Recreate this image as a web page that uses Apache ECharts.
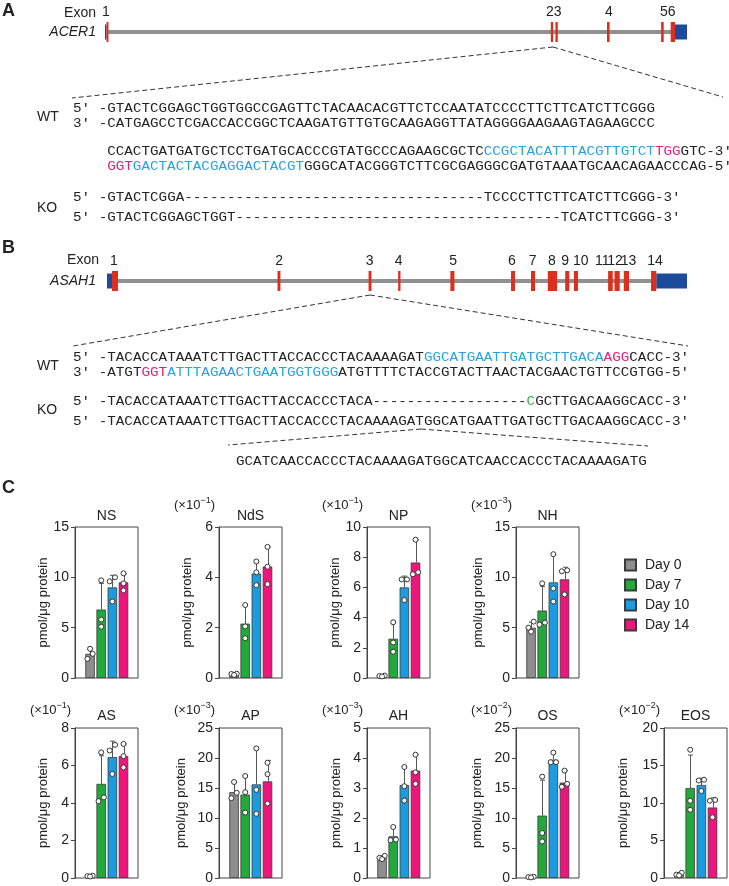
<!DOCTYPE html>
<html>
<head>
<meta charset="utf-8">
<title>ACER1 / ASAH1 knockout and ceramide levels</title>
<script src="https://cdn.jsdelivr.net/npm/echarts@6.0.0/dist/echarts.min.js"></script>
<style>
  html, body { margin: 0; padding: 0; background: #fff; }
  #main { width: 729px; height: 886px; }
</style>
</head>
<body>
<div id="main"></div>
<script>
var SANS = '"Liberation Sans", Arial, sans-serif';
var MONO = '"Liberation Mono", "DejaVu Sans Mono", monospace';

var days = ['Day 0', 'Day 7', 'Day 10', 'Day 14'];
var dayColors = ['#8e8e8e', '#23a83b', '#1b9ce0', '#ee157c'];

// gene models, positions in % of the drawn gene span
var acerIntron = [0.5, 98.1];
var acerUtr = [[0, 0.26], [97.9, 100]];
var acerExons = [[0.26, 0.6], [76.6, 77.0], [77.4, 77.8], [86.25, 86.7], [95.55, 96.0], [97.2, 97.95]];
var acerLabels = ['1', '23', '4', '56'];
var acerLabelPos = [0.17, 77.1, 86.6, 96.7];

var asahIntron = [1.9, 94.7];
var asahUtr = [[0, 0.86], [94.7, 100]];
var asahExons = [[0.86, 1.9], [29.4, 29.9], [45.1, 45.6], [50.2, 50.6], [59.2, 59.9], [69.66, 70.34], [73.1, 73.8],
  [76.0, 77.6], [79.0, 79.7], [80.5, 81.2], [86.4, 87.2], [87.5, 88.4], [89.1, 90.0], [93.8, 94.7]];
var asahLabels = ['1', '2', '3', '4', '5', '6', '7', '8', '9', '10', '11', '12', '13', '14'];
var asahLabelPos = [1.2, 29.7, 45.3, 50.3, 59.7, 69.8, 73.4, 76.7, 79.0, 81.7, 85.4, 87.6, 89.9, 94.5];

// sequences as runs: k plain, b guide, p PAM, g inserted base
var acerWt1 = [['k', '5′ -GTACTCGGAGCTGGTGGCCGAGTTCTACAACACGTTCTCCAATATCCCCTTCTTCATCTTCGGG']];
var acerWt2 = [['k', '3′ -CATGAGCCTCGACCACCGGCTCAAGATGTTGTGCAAGAGGTTATAGGGGAAGAAGTAGAAGCCC']];
var acerWt3 = [['k', 'CCACTGATGATGCTCCTGATGCACCCGTATGCCCAGAAGCGCTC'], ['b', 'CCGCTACATTTACGTTGTCT'], ['p', 'TGG'], ['k', 'GTC-3′']];
var acerWt4 = [['p', 'GGT'], ['b', 'GACTACTACGAGGACTACGT'], ['k', 'GGGCATACGGGTCTTCGCGAGGGCGATGTAAATGCAACAGAACCCAG-5′']];
var acerKo1 = [['k', '5′ -GTACTCGGA' + '-'.repeat(35) + 'TCCCCTTCTTCATCTTCGGG-3′']];
var acerKo2 = [['k', '5′ -GTACTCGGAGCTGGT' + '-'.repeat(38) + 'TCATCTTCGGG-3′']];

var asahWt1 = [['k', '5′ -TACACCATAAATCTTGACTTACCACCCTACAAAAGAT'], ['b', 'GGCATGAATTGATGCTTGACA'], ['p', 'AGG'], ['k', 'CACC-3′']];
var asahWt2 = [['k', '3′ -ATGT'], ['p', 'GGT'], ['b', 'ATTTAGAACTGAATGGTGGG'], ['k', 'ATGTTTTCTACCGTACTTAACTACGAACTGTTCCGTGG-5′']];
var asahKo1 = [['k', '5′ -TACACCATAAATCTTGACTTACCACCCTACA' + '-'.repeat(18)], ['g', 'C'], ['k', 'GCTTGACAAGGCACC-3′']];
var asahKo2 = [['k', '5′ -TACACCATAAATCTTGACTTACCACCCTACAAAAGATGGCATGAATTGATGCTTGACAAGGCACC-3′']];
var asahIns = [['k', 'GCATCAACCACCCTACAAAAGATGGCATCAACCACCCTACAAAAGATG']];

// panel C: mean, SD and replicate values (pmol/ug protein, in the axis multiplier)
var nsMean = [2.4, 6.8, 9.0, 9.5];
var nsSd = [0.45, 2.6, 1.2, 0.85];
var nsPts = [[1.9, 2.9, 2.4], [9.7, 5.8, 5.1], [10.0, 9.6, 7.6], [10.4, 9.4, 8.7]];

var ndsMean = [0.14, 2.16, 4.15, 4.43];
var ndsSd = [0.03, 0.74, 0.47, 0.78];
var ndsPts = [[0.16, 0.17, 0.12], [2.9, 2.05, 1.58], [4.63, 4.2, 3.69], [5.21, 4.42, 3.73]];

var npMean = [0.12, 2.6, 6.0, 7.65];
var npSd = [0.03, 1.1, 0.75, 1.5];
var npPts = [[0.13, 0.16, 0.1], [3.69, 2.35, 1.74], [6.53, 6.53, 5.16], [9.16, 6.87, 7.0]];

var nhMean = [5.0, 6.7, 9.5, 9.8];
var nhSd = [0.55, 2.4, 2.75, 1.2];
var nhPts = [[5.6, 5.0, 4.6], [9.4, 5.5, 5.3], [12.3, 8.9, 7.6], [10.7, 10.6, 8.3]];

var asMean = [0.1, 5.02, 6.45, 6.5];
var asSd = [0.02, 1.5, 0.85, 0.65];
var asPts = [[0.1, 0.12, 0.08], [6.7, 4.3, 4.1], [7.1, 6.8, 5.55], [7.15, 6.5, 5.9]];

var apMean = [14.3, 13.9, 15.6, 16.1];
var apSd = [1.8, 3.1, 6.0, 3.5];
var apPts = [[16.0, 14.2, 13.3], [17.0, 14.3, 10.9], [21.6, 14.7, 10.7], [19.2, 17.3, 12.4]];

var ahMean = [0.67, 1.39, 3.1, 3.58];
var ahSd = [0.07, 0.31, 0.6, 0.53];
var ahPts = [[0.74, 0.67, 0.63], [1.7, 1.28, 1.26], [3.7, 3.06, 2.58], [4.11, 3.52, 3.14]];

var osMean = [0.15, 10.4, 19.7, 15.9];
var osSd = [0.05, 5.9, 1.2, 2.0];
var osPts = [[0.15, 0.2, 0.1], [16.9, 7.5, 6.1], [20.9, 19.3, 19.3], [17.9, 15.7, 15.2]];

var eosMean = [0.45, 12.0, 12.4, 9.4];
var eosSd = [0.25, 4.4, 0.9, 1.3];
var eosPts = [[0.7, 0.45, 0.35], [17.1, 10.3, 9.1], [13.1, 13.0, 11.6], [10.4, 10.3, 8.1]];

var panels = [
  {name: 'NS', mean: nsMean, sd: nsSd, pts: nsPts, max: 15, step: 5, exp: null},
  {name: 'NdS', mean: ndsMean, sd: ndsSd, pts: ndsPts, max: 6, step: 2, exp: '−1'},
  {name: 'NP', mean: npMean, sd: npSd, pts: npPts, max: 10, step: 2, exp: '−1'},
  {name: 'NH', mean: nhMean, sd: nhSd, pts: nhPts, max: 15, step: 5, exp: '−3'},
  {name: 'AS', mean: asMean, sd: asSd, pts: asPts, max: 8, step: 2, exp: '−1'},
  {name: 'AP', mean: apMean, sd: apSd, pts: apPts, max: 25, step: 5, exp: '−3'},
  {name: 'AH', mean: ahMean, sd: ahSd, pts: ahPts, max: 5, step: 1, exp: '−3'},
  {name: 'OS', mean: osMean, sd: osSd, pts: osPts, max: 25, step: 5, exp: '−2'},
  {name: 'EOS', mean: eosMean, sd: eosSd, pts: eosPts, max: 20, step: 5, exp: '−2'}
];

// layout of panel C: [column, row, nameGap]
var colLeft = [75, 219, 367, 516, 664];
var rowTop = [527, 728];
var rowH = [151, 150];
var boxW = 63;
var place = [[0, 0, 25], [1, 0, 25], [2, 0, 24], [3, 0, 31], [0, 1, 25], [1, 1, 31], [2, 1, 24], [3, 1, 32], [4, 1, 34]];

function textEl(x, y, str, o) {
  o = o || {};
  return {
    type: 'text', x: x, y: y, silent: true, scaleX: o.scaleX || 1,
    style: {
      text: str, fill: o.color || '#222',
      font: (o.italic ? 'italic ' : '') + (o.bold ? 'bold ' : '') + (o.size || 14) + 'px ' + (o.family || SANS),
      align: o.align || 'left', textAlign: o.align || 'left',
      verticalAlign: 'middle', textVerticalAlign: 'middle',
      rich: o.rich
    }
  };
}

var seqRich = {
  k: {fill: '#222', fontSize: 13, fontFamily: MONO},
  b: {fill: '#25a3e3', fontSize: 13, fontFamily: MONO},
  p: {fill: '#ec1a7d', fontSize: 13, fontFamily: MONO},
  g: {fill: '#33ad48', fontSize: 13, fontFamily: MONO}
};
function seqEl(x, y, runs) {
  var s = runs.map(function (r) { return '{' + r[0] + '|' + r[1] + '}'; }).join('');
  return textEl(x, y, s, {family: MONO, size: 13, scaleX: 1.097, rich: seqRich});
}
function dash(x1, y1, x2, y2) {
  return {type: 'line', silent: true, shape: {x1: x1, y1: y1, x2: x2, y2: y2},
    style: {stroke: '#333', lineWidth: 1, lineDash: [5, 3]}};
}

var graphics = [
  textEl(2, 11, 'A', {bold: true, size: 18}),
  textEl(2, 248, 'B', {bold: true, size: 18}),
  textEl(2, 488, 'C', {bold: true, size: 18}),
  textEl(96, 13, 'Exon', {align: 'right'}),
  textEl(96, 32, 'ACER1', {align: 'right', italic: true}),
  textEl(99, 260, 'Exon', {align: 'right'}),
  textEl(96, 281, 'ASAH1', {align: 'right', italic: true}),
  dash(553, 47, 72, 98), dash(553, 47, 723, 97),
  textEl(37, 117, 'WT'),
  seqEl(73, 109, acerWt1), seqEl(73, 124, acerWt2),
  seqEl(107.2, 152, acerWt3), seqEl(107.2, 167, acerWt4),
  textEl(37, 208, 'KO'),
  seqEl(73, 198, acerKo1), seqEl(73, 218, acerKo2),
  dash(370, 295, 73, 346), dash(370, 295, 688, 346),
  textEl(37, 366, 'WT'),
  seqEl(73, 358, asahWt1), seqEl(73, 373, asahWt2),
  textEl(37, 410, 'KO'),
  seqEl(73, 402, asahKo1), seqEl(73, 422, asahKo2),
  dash(421, 429, 228, 445), dash(421, 429, 648, 446),
  seqEl(236, 462, asahIns)
];

var grids = [], xAxes = [], yAxes = [], series = [];

// gene model grids
var geneColors = ['#909090', '#1c4b9c', '#dc2f1e'];
function geneData(intron, utr, exons) {
  var d = [[intron[0], intron[1], 0]];
  utr.forEach(function (u) { d.push([u[0], u[1], 1]); });
  exons.forEach(function (e) { d.push([e[0], e[1], 2]); });
  return d;
}
function geneRender(params, api) {
  var k = api.value(2);
  var band = [[0.4, 0.6], [0.125, 0.875], [0, 1]][k];
  var p0 = api.coord([api.value(0), band[1]]);
  var p1 = api.coord([api.value(1), band[0]]);
  return {type: 'rect', shape: {x: p0[0], y: p0[1], width: Math.max(p1[0] - p0[0], 1.5), height: p1[1] - p0[1]},
    style: {fill: geneColors[k]}};
}
function addGene(left, top, width, parts, labels, labelPos) {
  var gi = grids.length;
  grids.push({left: left, top: top, width: width, height: 20, outerBoundsMode: 'none', containLabel: false});
  xAxes.push({gridIndex: gi, type: 'value', min: 0, max: 100, show: false});
  yAxes.push({gridIndex: gi, type: 'value', min: 0, max: 1, show: false});
  series.push({type: 'custom', xAxisIndex: gi, yAxisIndex: gi, silent: true, encode: {x: [0, 1]},
    data: parts, renderItem: geneRender});
  series.push({type: 'custom', xAxisIndex: gi, yAxisIndex: gi, silent: true, encode: {x: 0},
    data: labelPos.map(function (p) { return [p, 1]; }),
    renderItem: function (params, api) {
      var p = api.coord([api.value(0), 1]);
      return {type: 'text', x: p[0], y: p[1] - 10, style: {text: labels[params.dataIndex], fill: '#222',
        font: '14px ' + SANS, align: 'center', verticalAlign: 'middle'}};
    }});
}
addGene(105, 22, 582, geneData(acerIntron, acerUtr, acerExons), acerLabels, acerLabelPos);
addGene(107, 271, 580, geneData(asahIntron, asahUtr, asahExons), asahLabels, asahLabelPos);

// spread replicate dots that would overlap
function jitter(vals, ymax) {
  var off = vals.map(function () { return 0; });
  for (var i = 0; i < vals.length; i++) {
    for (var j = i + 1; j < vals.length; j++) {
      if (Math.abs(vals[i] - vals[j]) < ymax * 0.04 && off[i] === 0 && off[j] === 0) {
        var lo = vals[i] <= vals[j] ? i : j, hi = lo === i ? j : i;
        off[lo] = -0.24; off[hi] = 0.24;
      }
    }
  }
  return off;
}

panels.forEach(function (pn, idx) {
  var pl = place[idx];
  var left = colLeft[pl[0]], top = rowTop[pl[1]], h = rowH[pl[1]];
  var gi = grids.length;
  grids.push({left: left, top: top, width: boxW, height: h, show: true, borderColor: '#444', borderWidth: 1,
    backgroundColor: 'transparent', outerBoundsMode: 'none', containLabel: false});
  xAxes.push({gridIndex: gi, type: 'value', min: -1.35, max: 4.3, show: false});
  yAxes.push({
    gridIndex: gi, type: 'value', min: 0, max: pn.max, interval: pn.step,
    name: 'pmol/μg protein', nameLocation: 'middle', nameGap: pl[2],
    nameTextStyle: {fontSize: 13, color: '#222', fontFamily: SANS},
    axisLine: {show: true, onZero: false, lineStyle: {color: '#444', width: 1}},
    axisTick: {show: true, inside: false, length: 4, lineStyle: {color: '#444', width: 1}},
    axisLabel: {show: true, fontSize: 14, color: '#222', fontFamily: SANS, margin: 6},
    splitLine: {show: false}
  });
  pn.mean.forEach(function (m, d) {
    series.push({type: 'bar', name: days[d], xAxisIndex: gi, yAxisIndex: gi, barWidth: 9.5, barGap: '-100%',
      silent: true, z: 2, data: [[d, m]],
      itemStyle: {color: dayColors[d], borderColor: '#3a3a3a', borderWidth: 0.8}});
  });
  series.push({type: 'custom', xAxisIndex: gi, yAxisIndex: gi, silent: true, z: 3, encode: {x: 0, y: [1, 2]},
    data: pn.mean.map(function (m, d) { return [d, m, m + pn.sd[d]]; }),
    renderItem: function (params, api) {
      var p0 = api.coord([api.value(0), api.value(1)]);
      var p1 = api.coord([api.value(0), api.value(2)]);
      var x = Math.round(p0[0]) + 0.5;
      return {type: 'group', children: [
        {type: 'line', shape: {x1: x, y1: p0[1], x2: x, y2: p1[1]}, style: {stroke: '#555', lineWidth: 1}},
        {type: 'line', shape: {x1: x - 2.5, y1: p1[1], x2: x + 2.5, y2: p1[1]}, style: {stroke: '#555', lineWidth: 1}}
      ]};
    }});
  var dots = [];
  pn.pts.forEach(function (vals, d) {
    var off = jitter(vals, pn.max);
    vals.forEach(function (v, k) { dots.push([d + off[k], v]); });
  });
  series.push({type: 'scatter', xAxisIndex: gi, yAxisIndex: gi, silent: true, z: 4, symbol: 'circle', symbolSize: 5,
    data: dots, itemStyle: {color: '#fff', borderColor: '#333', borderWidth: 1, opacity: 1}});

  graphics.push(textEl(left + boxW / 2, top - (pl[1] === 0 ? 11 : 12), pn.name, {align: 'center', size: 14}));
  if (pn.exp) {
    graphics.push(textEl(left - 4, top - (pl[1] === 0 ? 22 : 18), '{a|(×10}{s|' + pn.exp + '}{a|)}', {
      align: 'right', size: 13,
      rich: {
        a: {fill: '#222', fontSize: 13, fontFamily: SANS, lineHeight: 18},
        s: {fill: '#222', fontSize: 9, fontFamily: SANS, lineHeight: 9, verticalAlign: 'top'}
      }
    }));
  }
});

var myChart = echarts.init(document.getElementById('main'), null, {renderer: 'canvas'});
myChart.setOption({
  animation: false,
  backgroundColor: '#fff',
  textStyle: {fontFamily: SANS},
  grid: grids,
  xAxis: xAxes,
  yAxis: yAxes,
  legend: {
    data: days, orient: 'vertical', left: 619, top: 553, itemWidth: 11, itemHeight: 11, itemGap: 6,
    icon: 'rect', selectedMode: false,
    textStyle: {fontSize: 14, color: '#222', fontFamily: SANS, padding: [0, 0, 0, 4]}
  },
  graphic: {elements: graphics},
  series: series
});
</script>
</body>
</html>
